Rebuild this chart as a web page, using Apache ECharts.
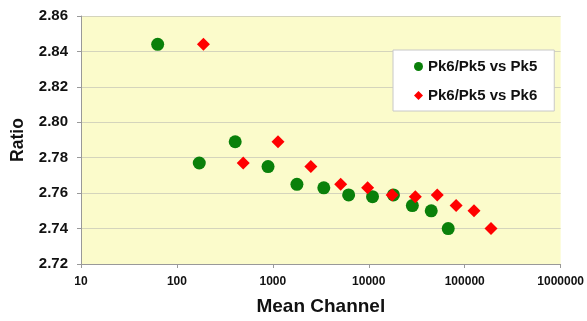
<!DOCTYPE html>
<html><head><meta charset="utf-8">
<script src="https://cdn.jsdelivr.net/npm/echarts@6/dist/echarts.min.js"></script>
<style>html,body{margin:0;padding:0;background:#fff}#c{width:587px;height:321px}</style>
</head><body><div id="c"></div>
<script>
var pk5X = [63, 171, 405, 891, 1782, 3397, 6166, 10936, 18070, 28450, 44770, 67300];
var pk5Y = [2.844, 2.777, 2.789, 2.775, 2.765, 2.763, 2.759, 2.758, 2.759, 2.753, 2.750, 2.740];
var pk6X = [189, 491, 1132, 2489, 5093, 9727, 17500, 30560, 51700, 81400, 125000, 188000];
var pk6Y = [2.844, 2.777, 2.789, 2.775, 2.765, 2.763, 2.759, 2.758, 2.759, 2.753, 2.750, 2.740];
var seriesNames = ['Pk6/Pk5 vs Pk5', 'Pk6/Pk5 vs Pk6'];
function pairs(xs, ys){ return xs.map(function(x,i){ return [x, ys[i]]; }); }
var chart = echarts.init(document.getElementById('c'), null, {renderer:'canvas'});
var font = 'Liberation Sans, Arial, sans-serif';
chart.setOption({
  animation:false,
  textStyle:{fontFamily:font},
  grid:{left:81, top:16, right:24, bottom:54, show:true, backgroundColor:'#FBFBCB', borderWidth:0},
  legend:{
    orient:'vertical', left:393, top:50,
    padding:[9,17,8,21], itemGap:14,
    backgroundColor:'#fff', borderColor:'#c8c8c8', borderWidth:1,
    itemWidth:9, itemHeight:9,
    textStyle:{fontFamily:font, fontWeight:'bold', fontSize:15, color:'#111', padding:[0,0,0,0]},
    data:[{name:seriesNames[0], icon:'circle'},{name:seriesNames[1], icon:'diamond'}]
  },
  xAxis:{
    type:'log', logBase:10, min:10, max:1000000,
    name:'Mean Channel', nameLocation:'middle', nameGap:33,
    nameTextStyle:{fontFamily:font, fontWeight:'bold', fontSize:19, color:'#111'},
    axisLine:{lineStyle:{color:'#999'}},
    axisTick:{show:true, lineStyle:{color:'#999'}, length:4},
    splitLine:{show:false},
    minorTick:{show:false},
    axisLabel:{fontFamily:font, fontWeight:'bold', fontSize:12, color:'#111', margin:12,
      formatter:function(v){ return String(Math.round(v)); }}
  },
  yAxis:{
    type:'value', min:2.72, max:2.86, interval:0.02,
    name:'Ratio', nameLocation:'middle', nameGap:54, nameRotate:90,
    nameTextStyle:{fontFamily:font, fontWeight:'bold', fontSize:17.5, color:'#111'},
    axisLine:{show:true, lineStyle:{color:'#999'}},
    axisTick:{show:true, lineStyle:{color:'#999'}, length:4},
    splitLine:{show:true, lineStyle:{color:'#d4d4bc', width:1}},
    axisLabel:{fontFamily:font, fontWeight:'bold', fontSize:15, color:'#111', margin:13,
      formatter:function(v){ return v.toFixed(2); }}
  },
  series:[
    {name:seriesNames[0], type:'scatter', symbol:'circle', symbolSize:13,
     itemStyle:{color:'#0a800a', opacity:1}, data:pairs(pk5X, pk5Y)},
    {name:seriesNames[1], type:'scatter', symbol:'diamond', symbolSize:13,
     itemStyle:{color:'#ff0000', opacity:1}, data:pairs(pk6X, pk6Y)}
  ]
});
</script></body></html>
